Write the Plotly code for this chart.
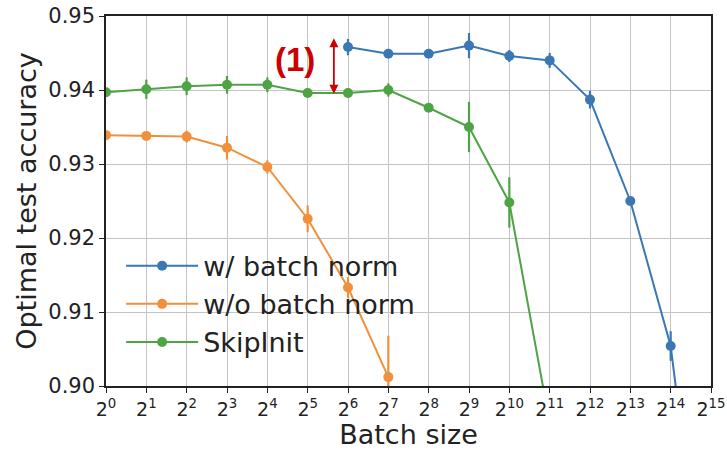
import math
import plotly.graph_objects as go

exponents = list(range(0, 16))
tick_labels = [f"2<sup>{e}</sup>" for e in exponents]

bn_exp = [6, 7, 8, 9, 10, 11, 12, 13, 14, 15]
bn_acc = [0.9458, 0.9449, 0.9449, 0.9460, 0.9446, 0.9440, 0.9387, 0.9250, 0.9054, 0.862]
bn_err = [0.0011, 0.0003, 0.0003, 0.0017, 0.0008, 0.0010, 0.0012, 0.0003, 0.0020, 0.0]

nobn_exp = [0, 1, 2, 3, 4, 5, 6, 7]
nobn_acc = [0.9339, 0.9338, 0.9337, 0.9322, 0.9296, 0.9226, 0.9133, 0.9012]
nobn_err = [0.0003, 0.0003, 0.0008, 0.0016, 0.0009, 0.0018, 0.0014, 0.0056]

skip_exp = [0, 1, 2, 3, 4, 5, 6, 7, 8, 9, 10, 11]
skip_acc = [0.9397, 0.9401, 0.9405, 0.9407, 0.9407, 0.9396, 0.9396, 0.9400, 0.9376, 0.9350, 0.9248, 0.895]
skip_err = [0.0004, 0.0013, 0.0012, 0.0012, 0.0010, 0.0004, 0.0006, 0.0009, 0.0003, 0.0034, 0.0034, 0.0]

series = [
    ("w/ batch norm", bn_exp, bn_acc, bn_err, "#3a77b3"),
    ("w/o batch norm", nobn_exp, nobn_acc, nobn_err, "#f0903c"),
    ("SkipInit", skip_exp, skip_acc, skip_err, "#4ea345"),
]

fig = go.Figure()
for name, ex, acc, err, col in series:
    fig.add_trace(go.Scatter(
        x=[2 ** e for e in ex], y=acc, name=name, mode="lines+markers",
        line=dict(color=col, width=2),
        marker=dict(color=col, size=10),
        error_y=dict(type="data", array=err, visible=True, color=col,
                     thickness=2.2, width=0),
        cliponaxis=True,
    ))

font_family = "DejaVu Sans"
fig.update_layout(
    width=727, height=450,
    margin=dict(l=106, r=16, t=16, b=64),
    paper_bgcolor="white", plot_bgcolor="white",
    font=dict(family=font_family, color="#222", size=18),
    showlegend=True,
    legend=dict(x=0.025, y=0.39, xanchor="left", yanchor="top",
                bgcolor="rgba(255,255,255,0)", font=dict(size=27),
                itemwidth=72, tracegroupgap=0),
)
L2 = math.log10(2)
fig.update_xaxes(
    type="log", range=[0, 15 * L2], automargin=False,
    tickvals=[2 ** e for e in exponents], ticktext=tick_labels,
    ticklabeloverflow="allow",
    showgrid=True, gridcolor="#c4c4c4", gridwidth=1,
    showline=True, linecolor="#222", linewidth=1.5, mirror=True,
    ticks="outside", ticklen=5, tickcolor="#222",
    tickfont=dict(size=19),
    title=dict(text="Batch size", font=dict(size=27), standoff=4),
    zeroline=False,
)
fig.update_yaxes(
    range=[0.90, 0.95], automargin=False,
    tickvals=[0.90, 0.91, 0.92, 0.93, 0.94, 0.95],
    ticktext=["0.90", "0.91", "0.92", "0.93", "0.94", "0.95"],
    ticklabeloverflow="allow",
    showgrid=True, gridcolor="#c4c4c4", gridwidth=1,
    showline=True, linecolor="#222", linewidth=1.5, mirror=True,
    ticks="outside", ticklen=5, tickcolor="#222",
    tickfont=dict(size=21),
    title=dict(text="Optimal test accuracy", font=dict(size=27), standoff=4),
    zeroline=False,
)

arrow_x = 5.65 * L2
fig.add_annotation(x=arrow_x, y=0.9470, ax=arrow_x, ay=0.9393, xref="x", yref="y",
                   axref="x", ayref="y", showarrow=True, arrowhead=2, arrowsize=1,
                   arrowwidth=1.8, arrowcolor="#cc0000", startarrowhead=2,
                   arrowside="end+start", text="")
fig.add_annotation(x=4.69 * L2, y=0.9441, xref="x", yref="y", text="<b>(1)</b>",
                   showarrow=False, font=dict(size=33, color="#cc0000", family="Liberation Sans"))

fig.write_html("out.html", config={"displayModeBar": False},
               post_script="document.body.style.margin='0';")
